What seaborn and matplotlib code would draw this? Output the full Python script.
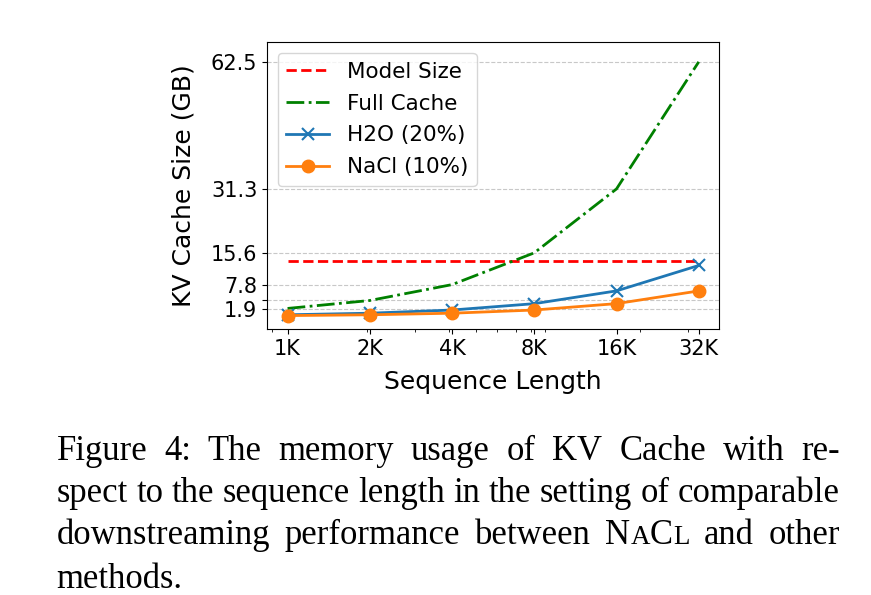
import matplotlib
matplotlib.use('Agg')
import pandas as pd
import seaborn as sns
import matplotlib.pyplot as plt

# values
seq_len = [1024, 2048, 4096, 8192, 16384, 32768]
seq_labels = ['1K', '2K', '4K', '8K', '16K', '32K']
model_size = [13.5, 13.5, 13.5, 13.5, 13.5, 13.5]
full_cache = [1.95, 3.9, 7.8, 15.6, 31.3, 62.5]
h2o_cache = [0.39, 0.78, 1.56, 3.12, 6.26, 12.5]
nacl_cache = [0.195, 0.39, 0.78, 1.56, 3.13, 6.25]
y_ticks = [1.9, 3.9, 7.8, 15.6, 31.3, 62.5]
y_tick_labels = ['1.9', '', '7.8', '15.6', '31.3', '62.5']

caption_lines = [
    'Figure 4:  The memory usage of KV Cache with re-',
    'spect to the sequence length in the setting of comparable',
    'downstreaming performance between NACL and other',
    'methods.',
]

FIG_W, FIG_H = 871, 595

df = pd.DataFrame({'seq': seq_len, 'model': model_size, 'full': full_cache,
                   'h2o': h2o_cache, 'nacl': nacl_cache})

fig = plt.figure(figsize=(FIG_W / 100, FIG_H / 100), dpi=100)
ax = fig.add_axes([267 / FIG_W, 1 - 329 / FIG_H, 452.3 / FIG_W, 286.7 / FIG_H])

ax.grid(axis='y', color='#c8c8c8', linestyle='--', linewidth=0.8)
ax.set_axisbelow(True)

sns.lineplot(ax=ax, data=df, x='seq', y='model', color='red', linestyle='--', lw=2, label='Model Size')
sns.lineplot(ax=ax, data=df, x='seq', y='full', color='green', linestyle='-.', lw=2, label='Full Cache')
sns.lineplot(ax=ax, data=df, x='seq', y='h2o', color='tab:blue', lw=2, marker='x', markersize=9,
             markeredgecolor='tab:blue', markeredgewidth=1.5, label='H2O (20%)')
sns.lineplot(ax=ax, data=df, x='seq', y='nacl', color='tab:orange', lw=2, marker='o', markersize=9,
             markeredgecolor='tab:orange', markeredgewidth=1, label='NaCl (10%)')

ax.set_xscale('log')
ax.set_xticks(seq_len)
ax.set_xticklabels(seq_labels)
ax.set_yticks(y_ticks)
ax.set_yticklabels(y_tick_labels)
ax.set_ylim(-3.1, 67.3)
ax.tick_params(labelsize=15)
ax.set_xlabel('Sequence Length', fontsize=18, labelpad=8)
ax.set_ylabel('KV Cache Size (GB)', fontsize=18, labelpad=11)
ax.legend(loc='upper left', fontsize=15.5, labelspacing=0.55)

# caption, justified like the paper text
CAP_FONT = 'Liberation Serif'
left_px, right_px = 56.7, 840
baselines = [460, 502, 544, 588]

renderer = fig.canvas.get_renderer()


def word_segments(word):
    if word == 'NACL':
        return [('N', 1.0), ('A', 0.78), ('C', 1.0), ('L', 0.78)]
    return [(word, 1.0)]


def seg_width(txt, size):
    t = fig.text(0, 0, txt, family=CAP_FONT, fontsize=size)
    w = t.get_window_extent(renderer).width
    t.remove()
    return w


# pick the size at which the second line fills the column with plain spaces
ref_size = 20.0
natural = seg_width(caption_lines[1], ref_size)
cap_size = ref_size * (right_px - left_px) / natural
space_w = seg_width('a a', cap_size) - seg_width('aa', cap_size)

for n_line, (line, base) in enumerate(zip(caption_lines, baselines)):
    words = line.split()
    widths = [[seg_width(s, cap_size * k) for s, k in word_segments(w)] for w in words]
    total = sum(sum(w) for w in widths)
    if n_line < len(caption_lines) - 1:
        gap = (right_px - left_px - total) / (len(words) - 1)
    else:
        gap = space_w
    x = left_px
    for word, w_list in zip(words, widths):
        for (s, k), w in zip(word_segments(word), w_list):
            fig.text(x / FIG_W, 1 - base / FIG_H, s, family=CAP_FONT, fontsize=cap_size * k,
                     va='baseline', ha='left')
            x += w
        x += gap

fig.savefig('out.png', dpi=100)
